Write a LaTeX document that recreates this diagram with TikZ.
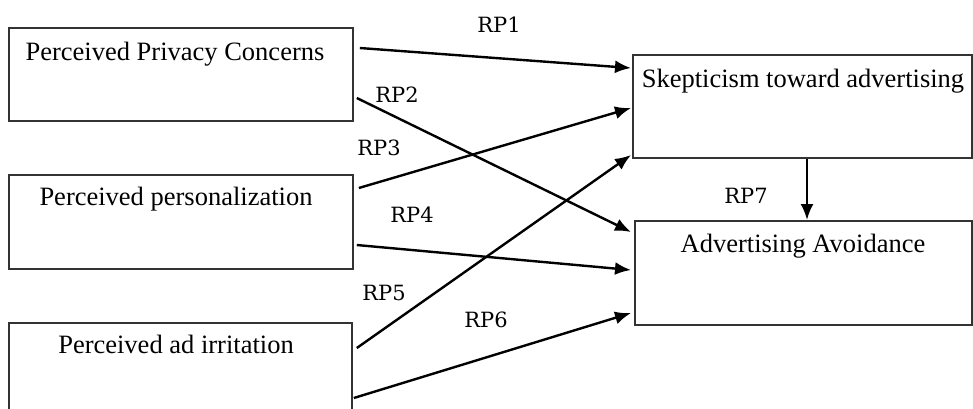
\documentclass[tikz,border=0pt]{standalone}
\usepackage{fontspec}
\setmainfont{Liberation Serif}
\newfontfamily\rpfont{DejaVu Serif}
\usetikzlibrary{arrows.meta,calc}
\begin{document}
\begin{tikzpicture}[x=1pt,y=-1pt,
  box/.style={draw=black!80,line width=1.8pt,rectangle,anchor=north west,inner sep=0pt},
  boxtext/.style={anchor=base,inner sep=0pt,font=\fontsize{26.5}{30}\selectfont},
  rplabel/.style={anchor=base,inner sep=0pt,font=\rpfont\fontsize{21}{24}\selectfont},
  arr/.style={line width=2.4pt,-{Latex[length=16pt,width=13pt]}}]
\useasboundingbox (0,0) rectangle (973,408);
% boxes
\node[box,minimum width=344pt,minimum height=93pt] (ppc) at (8,27) {};
\node[box,minimum width=344pt,minimum height=94pt] (pp) at (8,174) {};
\node[box,minimum width=343pt,minimum height=100pt] (pai) at (8,322) {};
\node[box,minimum width=339pt,minimum height=103pt] (sk) at (632,54) {};
\node[box,minimum width=337pt,minimum height=104pt] (aa) at (634,220) {};
% box texts
\node[boxtext] (ppct) at (175,60) {Perceived Privacy Concerns};
\node[boxtext] (ppt) at (176,205) {Perceived personalization};
\node[boxtext] (pait) at (176,353) {Perceived ad irritation};
\node[boxtext] (skt) at (803,87) {Skepticism toward advertising};
\node[boxtext] (aat) at (803,252) {Advertising Avoidance};
% connectors
\draw[arr] ($(ppc.north east)+(6,21)$) -- ($(sk.north west)+(-1,14)$);
\draw[arr] ($(ppc.north east)+(3,71)$) -- ($(aa.north west)+(-3,12)$);
\draw[arr] ($(pp.north east)+(5,14)$) -- ($(sk.north west)+(-1,54)$);
\draw[arr] ($(pp.north east)+(3,71)$) -- ($(aa.north west)+(-3,50)$);
\draw[arr] ($(pai.north east)+(4,26)$) -- ($(sk.north west)+(-1,101)$);
\draw[arr] ($(pai.north east)+(1,76)$) -- ($(aa.north west)+(-3,93)$);
\draw[arr] ($(sk.south west)+(175,0)$) -- ($(aa.north west)+(173,0)$);
% labels
\node[rplabel] (rp1) at (499,32) {RP1};
\node[rplabel] (rp2) at (397,102) {RP2};
\node[rplabel] (rp3) at (379,155) {RP3};
\node[rplabel] (rp4) at (412,222) {RP4};
\node[rplabel] (rp5) at (384,300) {RP5};
\node[rplabel] (rp6) at (486,327) {RP6};
\node[rplabel] (rp7) at (746,203) {RP7};
\end{tikzpicture}
\end{document}
